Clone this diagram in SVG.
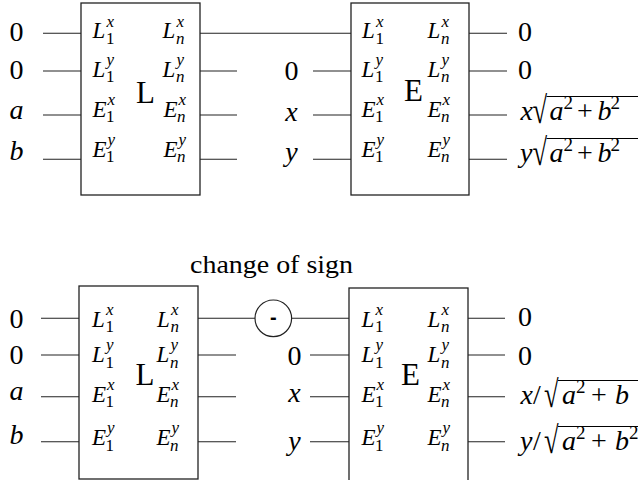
<svg xmlns="http://www.w3.org/2000/svg" width="638" height="480" viewBox="0 0 638 480">
<style>
.box{fill:#fff;stroke:#222;stroke-width:1.3}
.ln{stroke:#222;stroke-width:1.1;fill:none}
.t{font-family:"Liberation Serif","Times New Roman",serif;font-size:28px;fill:#000}
.cap{font-family:"Liberation Serif","Times New Roman",serif;font-size:25px;fill:#000}
.i{font-style:italic}
.bl{font-family:"Liberation Serif","Times New Roman",serif;font-size:23px;font-style:italic;fill:#000}
.sc{font-size:17px}
.up{font-style:normal}
.big{font-family:"Liberation Serif","Times New Roman",serif;font-size:31px;fill:#000}
.sup{font-size:19px;font-style:normal}
.rad{font-family:"Liberation Serif","Times New Roman",serif;font-size:38px;fill:#000}
.bar{stroke:#000;stroke-width:1.2}
</style>
<rect width="638" height="480" fill="#fff"/>

<g id="connectors">
  <line class="ln" x1="43" y1="33.3" x2="81" y2="33.3"/>
  <line class="ln" x1="43" y1="71" x2="81" y2="71"/>
  <line class="ln" x1="43" y1="115" x2="81" y2="115"/>
  <line class="ln" x1="43" y1="159.3" x2="81" y2="159.3"/>
  <line class="ln" x1="200" y1="33.3" x2="351" y2="33.3"/>
  <line class="ln" x1="200" y1="71" x2="237" y2="71"/>
  <line class="ln" x1="200" y1="115" x2="237" y2="115"/>
  <line class="ln" x1="200" y1="159.3" x2="237" y2="159.3"/>
  <line class="ln" x1="313" y1="71" x2="351" y2="71"/>
  <line class="ln" x1="313" y1="115" x2="351" y2="115"/>
  <line class="ln" x1="313" y1="159.3" x2="351" y2="159.3"/>
  <line class="ln" x1="469" y1="33.3" x2="507" y2="33.3"/>
  <line class="ln" x1="469" y1="71" x2="507" y2="71"/>
  <line class="ln" x1="469" y1="115" x2="507" y2="115"/>
  <line class="ln" x1="469" y1="159.3" x2="507" y2="159.3"/>
  <line class="ln" x1="41" y1="318.3" x2="79" y2="318.3"/>
  <line class="ln" x1="41" y1="355" x2="79" y2="355"/>
  <line class="ln" x1="41" y1="396.7" x2="79" y2="396.7"/>
  <line class="ln" x1="41" y1="441.7" x2="79" y2="441.7"/>
  <line class="ln" x1="198" y1="318.3" x2="255" y2="318.3"/>
  <line class="ln" x1="291.6" y1="318.3" x2="349" y2="318.3"/>
  <line class="ln" x1="198" y1="355" x2="236" y2="355"/>
  <line class="ln" x1="198" y1="396.7" x2="236" y2="396.7"/>
  <line class="ln" x1="198" y1="441.7" x2="236" y2="441.7"/>
  <line class="ln" x1="310" y1="355" x2="349" y2="355"/>
  <line class="ln" x1="310" y1="396.7" x2="349" y2="396.7"/>
  <line class="ln" x1="310" y1="441.7" x2="349" y2="441.7"/>
  <line class="ln" x1="468" y1="318.3" x2="505" y2="318.3"/>
  <line class="ln" x1="468" y1="355" x2="505" y2="355"/>
  <line class="ln" x1="468" y1="396.7" x2="505" y2="396.7"/>
  <line class="ln" x1="468" y1="441.7" x2="505" y2="441.7"/>
</g>

<g id="inputs-top">
  <text class="t" x="16.5" y="41" text-anchor="middle">0</text>
  <text class="t" x="16.5" y="79" text-anchor="middle">0</text>
  <text class="t i" x="16.5" y="118.5" text-anchor="middle">a</text>
  <text class="t i" x="16.5" y="159.5" text-anchor="middle">b</text>
  <text class="t" x="291.5" y="80" text-anchor="middle">0</text>
  <text class="t i" x="291.5" y="121" text-anchor="middle">x</text>
  <text class="t i" x="291.5" y="161" text-anchor="middle">y</text>
</g>

<g id="L-top">
  <rect class="box" x="81" y="3" width="119" height="192"/>
  <text class="big" x="136" y="103">L</text>
  <text class="bl" x="92.5" y="38.3">L<tspan class="sc" x="106.5" y="26.5">x</tspan><tspan class="sc up" x="106" y="44">1</tspan></text>
  <text class="bl" x="92.5" y="76.5">L<tspan class="sc" x="106.5" y="64.7">y</tspan><tspan class="sc up" x="106" y="82.2">1</tspan></text>
  <text class="bl" x="92.5" y="116.5">E<tspan class="sc" x="107.5" y="104.7">x</tspan><tspan class="sc up" x="106" y="122.2">1</tspan></text>
  <text class="bl" x="92.5" y="156.5">E<tspan class="sc" x="107.5" y="144.7">y</tspan><tspan class="sc up" x="106" y="162.2">1</tspan></text>
  <text class="bl" x="162.5" y="38.3">L<tspan class="sc" x="176.5" y="26.5">x</tspan><tspan class="sc" x="176" y="44">n</tspan></text>
  <text class="bl" x="162.5" y="76.5">L<tspan class="sc" x="176.5" y="64.7">y</tspan><tspan class="sc" x="176" y="82.2">n</tspan></text>
  <text class="bl" x="163.5" y="116.5">E<tspan class="sc" x="178.5" y="104.7">x</tspan><tspan class="sc" x="177" y="122.2">n</tspan></text>
  <text class="bl" x="163.5" y="156.5">E<tspan class="sc" x="178.5" y="144.7">y</tspan><tspan class="sc" x="177" y="162.2">n</tspan></text>
</g>

<g id="E-top">
  <rect class="box" x="351" y="3" width="118" height="192"/>
  <text class="big" x="404" y="101">E</text>
  <text class="bl" x="362" y="38.3">L<tspan class="sc" x="376" y="26.5">x</tspan><tspan class="sc up" x="375.5" y="44">1</tspan></text>
  <text class="bl" x="361.5" y="76.5">L<tspan class="sc" x="375.5" y="64.7">y</tspan><tspan class="sc up" x="375" y="82.2">1</tspan></text>
  <text class="bl" x="361.5" y="116.5">E<tspan class="sc" x="376.5" y="104.7">x</tspan><tspan class="sc up" x="375" y="122.2">1</tspan></text>
  <text class="bl" x="361.5" y="156.5">E<tspan class="sc" x="376.5" y="144.7">y</tspan><tspan class="sc up" x="375" y="162.2">1</tspan></text>
  <text class="bl" x="427.5" y="38.3">L<tspan class="sc" x="441.5" y="26.5">x</tspan><tspan class="sc" x="441" y="44">n</tspan></text>
  <text class="bl" x="427.5" y="76.5">L<tspan class="sc" x="441.5" y="64.7">y</tspan><tspan class="sc" x="441" y="82.2">n</tspan></text>
  <text class="bl" x="427.5" y="116.5">E<tspan class="sc" x="442.5" y="104.7">x</tspan><tspan class="sc" x="441" y="122.2">n</tspan></text>
  <text class="bl" x="427.5" y="156.5">E<tspan class="sc" x="442.5" y="144.7">y</tspan><tspan class="sc" x="441" y="162.2">n</tspan></text>
</g>

<g id="outputs-top">
  <text class="t" x="518" y="41">0</text>
  <text class="t" x="518" y="79">0</text>
  <text class="t i" x="520.5" y="120">x</text>
  <text class="rad" transform="translate(532.5,123) scale(0.7,1)">√</text>
  <line class="bar" x1="546.5" y1="96.5" x2="638" y2="96.5"/>
  <text class="t i" x="549.5" y="120">a</text>
  <text class="t sup" x="563.5" y="108.5">2</text>
  <text class="t" x="577" y="120">+</text>
  <text class="t i" x="597.5" y="120">b</text>
  <text class="t sup" x="610.5" y="108.5">2</text>
  <text class="t i" x="520" y="162">y</text>
  <text class="rad" transform="translate(532.5,165) scale(0.7,1)">√</text>
  <line class="bar" x1="546.5" y1="138.5" x2="638" y2="138.5"/>
  <text class="t i" x="549.5" y="162">a</text>
  <text class="t sup" x="563.5" y="150.5">2</text>
  <text class="t" x="577" y="162">+</text>
  <text class="t i" x="597.5" y="162">b</text>
  <text class="t sup" x="610.5" y="150.5">2</text>
</g>

<g id="sign">
  <text class="cap" x="190" y="273" textLength="163" lengthAdjust="spacingAndGlyphs">change of sign</text>
  <circle cx="273.3" cy="318.3" r="18.3" fill="#fff" stroke="#222" stroke-width="1.2"/>
  <text x="273.3" y="324" text-anchor="middle" font-family="Liberation Sans, sans-serif" font-size="20" font-weight="bold">-</text>
</g>

<g id="inputs-bottom">
  <text class="t" x="16.5" y="328" text-anchor="middle">0</text>
  <text class="t" x="16.5" y="363.5" text-anchor="middle">0</text>
  <text class="t i" x="16.5" y="400" text-anchor="middle">a</text>
  <text class="t i" x="16.5" y="443.5" text-anchor="middle">b</text>
  <text class="t" x="294.5" y="365" text-anchor="middle">0</text>
  <text class="t i" x="294.5" y="402" text-anchor="middle">x</text>
  <text class="t i" x="294.5" y="450" text-anchor="middle">y</text>
</g>

<g id="L-bottom">
  <rect class="box" x="79" y="286" width="119" height="193"/>
  <text class="big" x="135.5" y="385">L</text>
  <text class="bl" x="92" y="326.7">L<tspan class="sc" x="106" y="314.9">x</tspan><tspan class="sc up" x="105.5" y="332.4">1</tspan></text>
  <text class="bl" x="92" y="362">L<tspan class="sc" x="106" y="350.2">y</tspan><tspan class="sc up" x="105.5" y="367.7">1</tspan></text>
  <text class="bl" x="92" y="401.7">E<tspan class="sc" x="107" y="389.9">x</tspan><tspan class="sc up" x="105.5" y="407.4">1</tspan></text>
  <text class="bl" x="92" y="445">E<tspan class="sc" x="107" y="433.2">y</tspan><tspan class="sc up" x="105.5" y="450.7">1</tspan></text>
  <text class="bl" x="157" y="326.7">L<tspan class="sc" x="171" y="314.9">x</tspan><tspan class="sc" x="170.5" y="332.4">n</tspan></text>
  <text class="bl" x="156.5" y="362">L<tspan class="sc" x="170.5" y="350.2">y</tspan><tspan class="sc" x="170" y="367.7">n</tspan></text>
  <text class="bl" x="156.5" y="401.7">E<tspan class="sc" x="171.5" y="389.9">x</tspan><tspan class="sc" x="170" y="407.4">n</tspan></text>
  <text class="bl" x="156.5" y="445">E<tspan class="sc" x="171.5" y="433.2">y</tspan><tspan class="sc" x="170" y="450.7">n</tspan></text>
</g>

<g id="E-bottom">
  <rect class="box" x="349" y="288" width="119" height="200"/>
  <text class="big" x="401" y="385">E</text>
  <text class="bl" x="361.5" y="326.7">L<tspan class="sc" x="375.5" y="314.9">x</tspan><tspan class="sc up" x="375" y="332.4">1</tspan></text>
  <text class="bl" x="361.5" y="362">L<tspan class="sc" x="375.5" y="350.2">y</tspan><tspan class="sc up" x="375" y="367.7">1</tspan></text>
  <text class="bl" x="361.5" y="401.7">E<tspan class="sc" x="376.5" y="389.9">x</tspan><tspan class="sc up" x="375" y="407.4">1</tspan></text>
  <text class="bl" x="361.5" y="445">E<tspan class="sc" x="376.5" y="433.2">y</tspan><tspan class="sc up" x="375" y="450.7">1</tspan></text>
  <text class="bl" x="427.5" y="326.7">L<tspan class="sc" x="441.5" y="314.9">x</tspan><tspan class="sc" x="441" y="332.4">n</tspan></text>
  <text class="bl" x="427.5" y="362">L<tspan class="sc" x="441.5" y="350.2">y</tspan><tspan class="sc" x="441" y="367.7">n</tspan></text>
  <text class="bl" x="427.5" y="401.7">E<tspan class="sc" x="442.5" y="389.9">x</tspan><tspan class="sc" x="441" y="407.4">n</tspan></text>
  <text class="bl" x="427.5" y="445">E<tspan class="sc" x="442.5" y="433.2">y</tspan><tspan class="sc" x="441" y="450.7">n</tspan></text>
</g>

<g id="outputs-bottom">
  <text class="t" x="518" y="326">0</text>
  <text class="t" x="518" y="364.5">0</text>
  <text class="t i" x="520.5" y="404">x</text>
  <text class="t" x="533" y="404">/</text>
  <text class="rad" transform="translate(544,407) scale(0.7,1)">√</text>
  <line class="bar" x1="558" y1="380.5" x2="638" y2="380.5"/>
  <text class="t i" x="562" y="404">a</text>
  <text class="t sup" x="576" y="392.5">2</text>
  <text class="t" x="591" y="404">+</text>
  <text class="t i" x="615" y="404">b</text>
  <text class="t i" x="520" y="450">y</text>
  <text class="t" x="533" y="450">/</text>
  <text class="rad" transform="translate(544,453) scale(0.7,1)">√</text>
  <line class="bar" x1="558" y1="426.5" x2="638" y2="426.5"/>
  <text class="t i" x="562" y="450">a</text>
  <text class="t sup" x="576" y="438.5">2</text>
  <text class="t" x="591" y="450">+</text>
  <text class="t i" x="615" y="450">b</text>
  <text class="t sup" x="629" y="438.5">2</text>
</g>
</svg>
